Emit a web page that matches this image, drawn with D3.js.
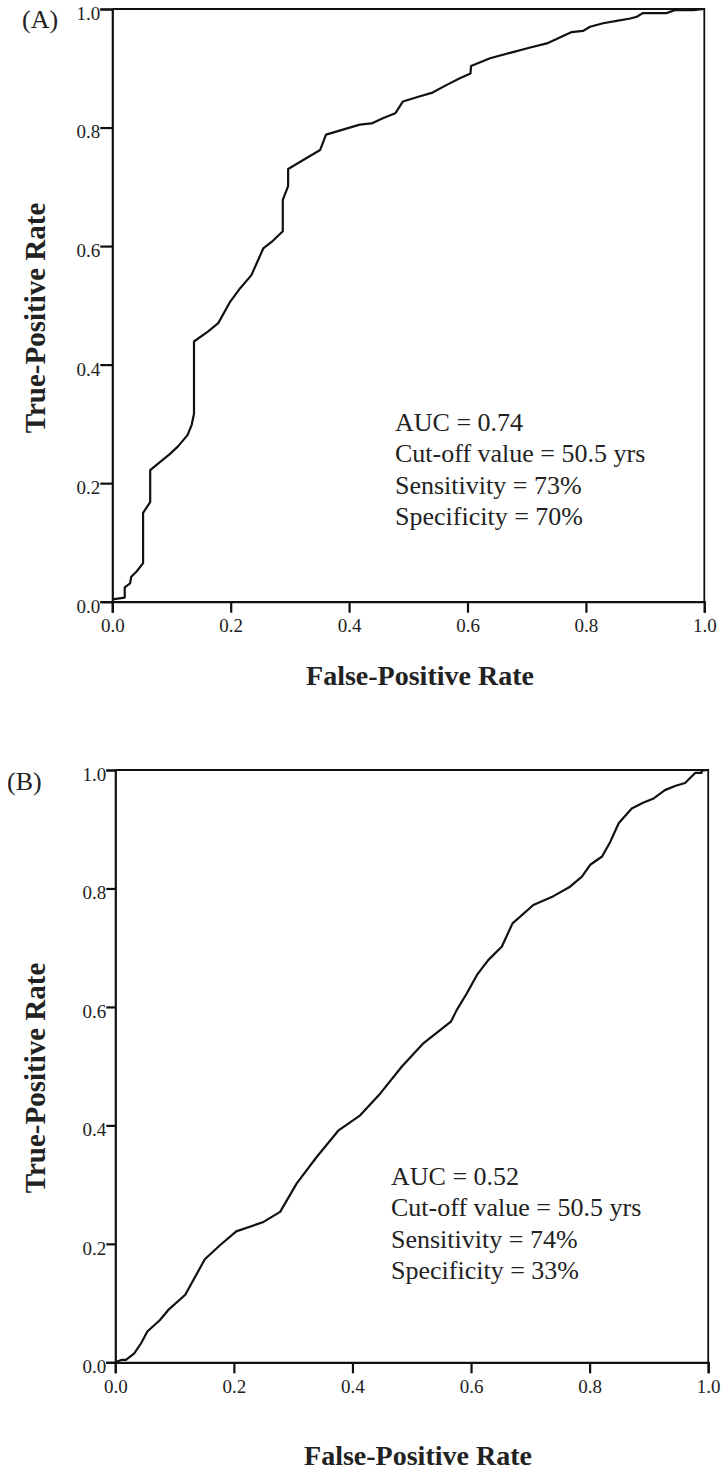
<!DOCTYPE html>
<html>
<head>
<meta charset="utf-8">
<script src="https://cdn.jsdelivr.net/npm/d3@7/dist/d3.min.js"></script>
<style>
  html, body { margin: 0; padding: 0; background: #fff; }
  svg { display: block; }
  text { font-family: "Liberation Serif", "Times New Roman", serif; fill: #222; }
</style>
</head>
<body>
<svg id="chart" width="726" height="1471"></svg>
<script>
// ---- Data ----
const tickValues = [0, 0.2, 0.4, 0.6, 0.8, 1.0];
const panelLabels = ["(A)", "(B)"];
const xTitle = "False-Positive Rate";
const yTitle = "True-Positive Rate";

const fprA = [0, 0.021, 0.021, 0.030, 0.032, 0.041, 0.052, 0.052, 0.064, 0.064, 0.081, 0.097, 0.111, 0.127, 0.134, 0.138, 0.138, 0.162, 0.179, 0.199, 0.216, 0.235, 0.255, 0.269, 0.288, 0.288, 0.297, 0.297, 0.351, 0.361, 0.418, 0.438, 0.458, 0.478, 0.491, 0.517, 0.541, 0.565, 0.587, 0.605, 0.606, 0.638, 0.672, 0.706, 0.734, 0.756, 0.776, 0.795, 0.807, 0.829, 0.852, 0.875, 0.886, 0.896, 0.936, 0.950, 0.981, 1.0];
const tprA = [0.004, 0.007, 0.024, 0.031, 0.042, 0.051, 0.065, 0.150, 0.168, 0.222, 0.236, 0.249, 0.262, 0.281, 0.298, 0.317, 0.439, 0.456, 0.470, 0.506, 0.529, 0.551, 0.596, 0.607, 0.625, 0.678, 0.701, 0.730, 0.762, 0.788, 0.805, 0.807, 0.816, 0.824, 0.844, 0.852, 0.859, 0.872, 0.883, 0.891, 0.904, 0.917, 0.926, 0.935, 0.942, 0.952, 0.961, 0.963, 0.970, 0.976, 0.980, 0.984, 0.987, 0.993, 0.993, 0.998, 0.998, 1.0];

const fprB = [0, 0.010, 0.018, 0.032, 0.044, 0.054, 0.075, 0.089, 0.118, 0.151, 0.177, 0.204, 0.250, 0.278, 0.306, 0.340, 0.376, 0.413, 0.447, 0.483, 0.520, 0.566, 0.576, 0.593, 0.610, 0.629, 0.652, 0.670, 0.705, 0.739, 0.767, 0.787, 0.801, 0.821, 0.835, 0.849, 0.871, 0.891, 0.908, 0.927, 0.944, 0.961, 0.978, 0.989, 0.989, 1.0];
const tprB = [0, 0.004, 0.004, 0.015, 0.033, 0.052, 0.071, 0.088, 0.114, 0.174, 0.198, 0.221, 0.237, 0.254, 0.302, 0.347, 0.391, 0.417, 0.454, 0.499, 0.539, 0.575, 0.595, 0.623, 0.654, 0.679, 0.702, 0.741, 0.772, 0.787, 0.803, 0.820, 0.840, 0.854, 0.879, 0.910, 0.935, 0.945, 0.952, 0.966, 0.973, 0.978, 0.995, 0.995, 0.999, 1.0];

const notesA = ["AUC = 0.74", "Cut-off value = 50.5 yrs", "Sensitivity = 73%", "Specificity = 70%"];
const notesB = ["AUC = 0.52", "Cut-off value = 50.5 yrs", "Sensitivity = 74%", "Specificity = 33%"];

// ---- Drawing ----
const svg = d3.select("#chart");

const panels = [
  { label: panelLabels[0], fpr: fprA, tpr: tprA, notes: notesA,
    x0: 112.3, x1: 704.3, y0: 601.7, y1: 9,
    labelPos: [22, 28], ytX: 45, ytY: 318, xtX: 420, xtY: 685,
    noteX: 395, noteY: 431, yTick: 12, xLabelY: 30 },
  { label: panelLabels[1], fpr: fprB, tpr: tprB, notes: notesB,
    x0: 115.3, x1: 708.2, y0: 1362.3, y1: 770,
    labelPos: [7, 790], ytX: 45, ytY: 1078, xtX: 418, xtY: 1465,
    noteX: 391, noteY: 1185, yTick: 9, xLabelY: 31 }
];

panels.forEach(p => {
  const x = d3.scaleLinear().domain([0, 1]).range([p.x0, p.x1]);
  const y = d3.scaleLinear().domain([0, 1]).range([p.y0, p.y1]);
  const g = svg.append("g");

  // Frame (top & right)
  g.append("path")
    .attr("d", `M${x(0)},${y(1)}H${x(1)}V${y(0)}`)
    .attr("fill", "none").attr("stroke", "#111").attr("stroke-width", 1.8);

  // Y axis
  const ya = g.append("g").attr("transform", `translate(${x(0)},0)`)
    .call(d3.axisLeft(y).tickValues(tickValues).tickFormat(d3.format(".1f"))
      .tickSize(p.yTick).tickPadding(0));
  ya.select(".domain").attr("stroke", "#111").attr("stroke-width", 2.2);
  ya.selectAll(".tick line").attr("stroke", "#111").attr("stroke-width", 2.2);
  ya.selectAll(".tick text").attr("font-size", 19).attr("dy", "0.55em")
    .attr("font-family", "Liberation Serif, Times New Roman, serif").attr("fill", "#222");

  // X axis
  const xa = g.append("g").attr("transform", `translate(0,${y(0)})`)
    .call(d3.axisBottom(x).tickValues(tickValues).tickFormat(d3.format(".1f"))
      .tickSize(11));
  xa.select(".domain").attr("stroke", "#111").attr("stroke-width", 2.2);
  xa.selectAll(".tick line").attr("stroke", "#111").attr("stroke-width", 2.2);
  xa.selectAll(".tick text").attr("font-size", 19).attr("y", p.xLabelY).attr("dy", 0)
    .attr("font-family", "Liberation Serif, Times New Roman, serif").attr("fill", "#222");

  // Curve
  const pts = p.fpr.map((v, i) => [v, p.tpr[i]]);
  g.append("path")
    .datum(pts)
    .attr("d", d3.line().x(d => x(d[0])).y(d => y(d[1])))
    .attr("fill", "none").attr("stroke", "#111").attr("stroke-width", 2.2)
    .attr("stroke-linejoin", "round");

  // Panel label
  g.append("text").attr("x", p.labelPos[0]).attr("y", p.labelPos[1])
    .attr("font-size", 26).text(p.label);

  // Axis titles
  g.append("text")
    .attr("transform", `translate(${p.ytX},${p.ytY}) rotate(-90)`)
    .attr("text-anchor", "middle").attr("font-size", 29).attr("font-weight", "bold")
    .text(yTitle);
  g.append("text")
    .attr("x", p.xtX).attr("y", p.xtY)
    .attr("text-anchor", "middle").attr("font-size", 28).attr("font-weight", "bold")
    .text(xTitle);

  // Notes
  g.selectAll("text.note").data(p.notes).enter().append("text")
    .attr("class", "note")
    .attr("x", p.noteX).attr("y", (d, i) => p.noteY + i * 31.3)
    .attr("font-size", 26).text(d => d);
});
</script>
</body>
</html>
